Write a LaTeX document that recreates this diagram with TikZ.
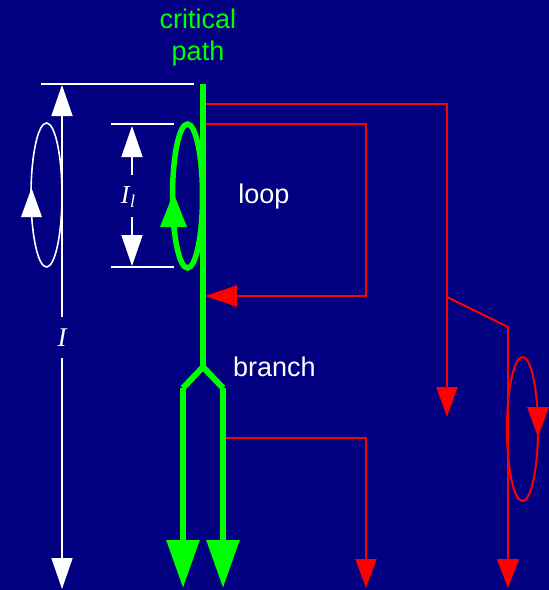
\documentclass[tikz,border=0pt]{standalone}
\usepackage{fontspec}
\setmainfont{Liberation Sans}
\newfontfamily\tnr{Liberation Serif}
\usetikzlibrary{arrows.meta}
\definecolor{navy}{HTML}{000080}
\definecolor{grn}{HTML}{00FF00}
\definecolor{rd}{HTML}{FF0000}
\begin{document}
\begin{tikzpicture}[x=1pt,y=-1pt,
  redline/.style={draw=rd,line width=2pt},
  redtip/.style={-{Triangle[length=30pt,width=21pt]}},
  greenline/.style={draw=grn,line width=6pt},
  greentip/.style={-{Triangle[length=48pt,width=32pt]}},
  whiteline/.style={draw=white,line width=1.6pt},
  whitetip/.style={-{Triangle[length=31pt,width=21pt]}},
  lbl/.style={inner sep=0pt,anchor=base,font=\fontsize{27}{32}\selectfont}]
% background / bounding box
\fill[navy] (0,0) rectangle (549,590);
\useasboundingbox (0,0) rectangle (549,590);

% key coordinates
\coordinate (top) at (203,84);
\coordinate (br) at (203,367);
\coordinate (bl) at (183,388);
\coordinate (brr) at (223,388);
\coordinate (blend) at (183,588);
\coordinate (brend) at (223,588);

% red paths
\coordinate (r1s) at (203,104);
\coordinate (r1c) at (447,104);
\coordinate (r1e) at (447,417);
\coordinate (r1b) at (447,297);
\coordinate (r1d) at (508,327);
\coordinate (r1f) at (508,588);
\draw[redline,redtip] (r1s) -- (r1c) -- (r1e);
\draw[redline,-{Triangle[length=29pt,width=22pt]}] (r1b) -- (r1d) -- (r1f);

\coordinate (r2s) at (203,124);
\coordinate (r2c) at (366,124);
\coordinate (r2d) at (366,296);
\coordinate (r2e) at (205,296);
\draw[redline,-{Triangle[length=32pt,width=21pt]}] (r2s) -- (r2c) -- (r2d) -- (r2e);

\coordinate (r3s) at (223,438);
\coordinate (r3c) at (366,438);
\coordinate (r3e) at (366,588);
\draw[redline,-{Triangle[length=29pt,width=21pt]}] (r3s) -- (r3c) -- (r3e);

% red loop ellipse with arrow
\coordinate (rell) at (522.5,429);
\draw[redline] (rell) ellipse [x radius=15.5, y radius=72];
\fill[rd] (538,437) -- (527,407) -- (549,407) -- cycle;

% green critical path
\draw[greenline] (top) -- (br);
\draw[greenline,line join=bevel] (bl) -- (br) -- (brr);
\draw[greenline,greentip] (bl) -- (blend);
\draw[greenline,greentip] (brr) -- (brend);

% green loop ellipse with arrow
\coordinate (gell) at (187.5,196);
\draw[draw=grn,line width=5.5pt] (gell) ellipse [x radius=15, y radius=72];
\fill[grn] (173.5,193) -- (160,227) -- (187,227) -- cycle;

% white dimension I
\coordinate (dtl) at (41,84);
\coordinate (dtr) at (194,84);
\draw[whiteline] (dtl) -- (dtr);
\coordinate (Itop) at (62,85);
\coordinate (Ibot) at (62,589);
\node[lbl,text=white,font=\fontsize{27}{32}\tnr\itshape] (Ilab) at (62,346) {I};
\draw[whiteline,whitetip] (62,317) -- (Itop);
\draw[whiteline,whitetip] (62,358) -- (Ibot);

% white loop ellipse
\coordinate (well) at (46.5,195);
\draw[whiteline] (well) ellipse [x radius=15.5, y radius=72];
\fill[white] (31.5,188) -- (21,217) -- (42,217) -- cycle;

% white dimension I_l
\coordinate (ltl) at (111,124);
\coordinate (ltr) at (174,124);
\coordinate (lbl) at (111,267);
\coordinate (lbr) at (174,267);
\draw[whiteline] (ltl) -- (ltr);
\draw[whiteline] (lbl) -- (lbr);
\node[lbl,text=white,font=\fontsize{26}{30}\tnr\itshape] (Illab) at (128,203) {I\kern0.5pt\raisebox{-4pt}{\fontsize{18}{21}\selectfont l}};
\draw[whiteline,whitetip] (132,175) -- (132,126);
\draw[whiteline,whitetip] (132,217) -- (132,266);

% labels
\node[lbl,text=grn] (crit) at (198,28) {critical};
\node[lbl,text=grn] (path) at (198,60) {path};
\node[lbl,text=white] (loop) at (264,203) {loop};
\node[lbl,text=white,anchor=base west] (branch) at (233,376) {branch};
\end{tikzpicture}
\end{document}
